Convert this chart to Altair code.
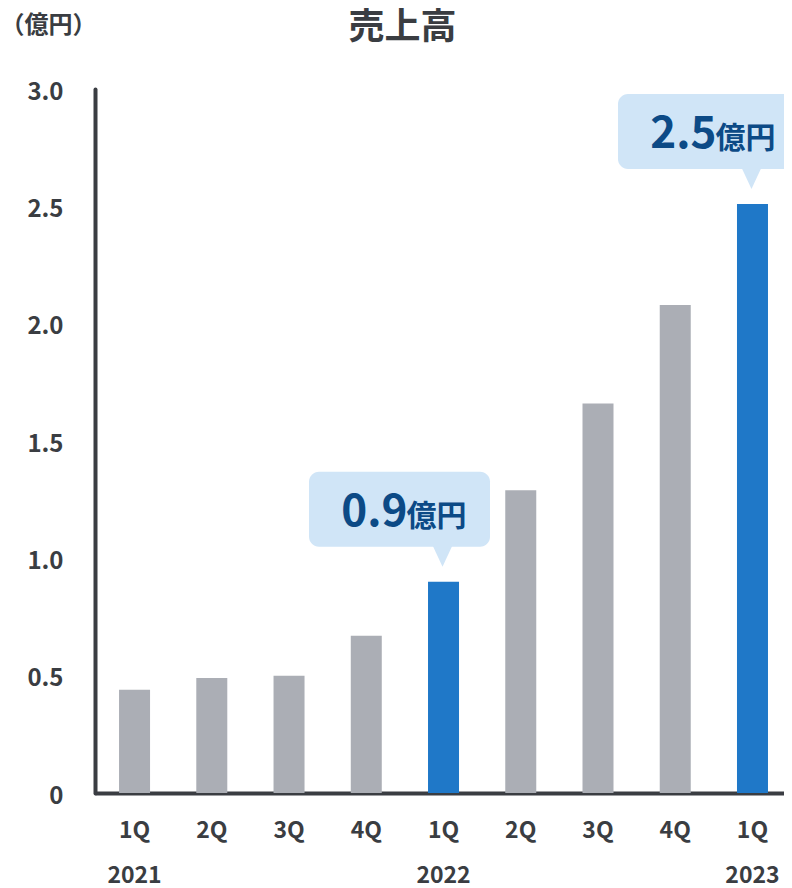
import altair as alt
import pandas as pd

# ---- data -------------------------------------------------------------
years = ["2021", "2021", "2021", "2021", "2022", "2022", "2022", "2022", "2023"]
quarters = ["1Q", "2Q", "3Q", "4Q", "1Q", "2Q", "3Q", "4Q", "1Q"]
sales = [0.44, 0.49, 0.50, 0.67, 0.90, 1.29, 1.66, 2.08, 2.51]  # 億円
highlight = [False, False, False, False, True, False, False, False, True]
y_ticks = [0, 0.5, 1.0, 1.5, 2.0, 2.5, 3.0]

df = pd.DataFrame({
    "period": [f"{y} {q}" for y, q in zip(years, quarters)],
    "sales": sales,
    "hl": ["yes" if h else "no" for h in highlight],
})
order = list(df["period"])

FONT = "Noto Sans CJK JP"
DARK = "#3a3d42"
GRAY = "#abaeb5"
BLUE = "#1f78c8"
CALLOUT_BG = "#d0e5f7"
CALLOUT_TXT = "#0c4a86"

x_enc = alt.X(
    "period:N", sort=order,
    scale=alt.Scale(paddingInner=0.6, paddingOuter=0.26, align=0.6),
    axis=alt.Axis(
        title=None, labelAngle=0, ticks=False, tickSize=0,
        labelPadding=26, labelFont=FONT, labelFontSize=23, labelFontWeight="bold",
        labelColor=DARK, labelBaseline="top", labelLineHeight=45,
        labelExpr="[split(datum.label, ' ')[1], split(datum.label, ' ')[1] == '1Q' ? split(datum.label, ' ')[0] : '']",
        domainColor=DARK, domainWidth=4,
    ),
)
y_enc = alt.Y(
    "sales:Q",
    scale=alt.Scale(domain=[0, 3], nice=False, zero=True),
    axis=alt.Axis(
        values=y_ticks, grid=False, ticks=False, tickSize=0,
        labelPadding=32, labelFont=FONT, labelFontSize=24, labelFontWeight="bold",
        labelColor=DARK, labelOffset=3,
        labelExpr="datum.value == 0 ? '0' : format(datum.value, '.1f')",
        domainColor=DARK, domainWidth=4, domainCap="round",
        title="（億円）", titleAngle=0, titleAlign="left", titleBaseline="alphabetic",
        titleX=-95, titleY=-57, titleFont=FONT, titleFontSize=24,
        titleFontWeight="bold", titleColor=DARK,
    ),
)

base = alt.Chart(df)

bars = base.mark_bar(width=31).encode(
    x=x_enc,
    y=y_enc,
    color=alt.Color("hl:N", scale=alt.Scale(domain=["no", "yes"], range=[GRAY, BLUE]), legend=None),
)

hl = base.transform_filter(alt.datum.hl == "yes")

box = hl.mark_bar(
    width=181, xOffset=-44, yOffset=-110, y2Offset=-35,
    cornerRadius=10, color=CALLOUT_BG,
).encode(x=alt.X("period:N", sort=order), y="sales:Q", y2="sales:Q")

pointer = hl.mark_point(
    shape="M-1,-1.15L1,-1.15L0,1Z", size=400, filled=True,
    opacity=1, color=CALLOUT_BG, strokeWidth=0, yOffset=-25, xOffset=-1,
).encode(x=alt.X("period:N", sort=order), y="sales:Q")

num = hl.mark_text(
    align="right", baseline="alphabetic", dx=-36, dy=-56,
    font=FONT, fontSize=44, fontWeight="bold", color=CALLOUT_TXT,
).encode(x=alt.X("period:N", sort=order), y="sales:Q", text=alt.Text("sales:Q", format=".1f"))

unit = hl.mark_text(
    align="left", baseline="alphabetic", dx=-37, dy=-56,
    font=FONT, fontSize=30, fontWeight="bold", color=CALLOUT_TXT,
).encode(x=alt.X("period:N", sort=order), y="sales:Q", text=alt.value("億円"))

chart = alt.layer(bars, box, pointer, num, unit).properties(
    width=689, height=704,
    background="white",
    title=alt.TitleParams(
        "売上高", font=FONT, fontSize=36, fontWeight="bold", color=DARK,
        anchor="middle", frame="group", dx=-37, dy=62, offset=0, baseline="alphabetic",
    ),
    autosize=alt.AutoSizeParams(type="none"),
    padding={"left": 87, "top": 81, "right": 0, "bottom": 95},
).configure_view(stroke=None).configure_axis(grid=False)

chart.save("out.html", embed_options={"renderer": "svg", "actions": False})
